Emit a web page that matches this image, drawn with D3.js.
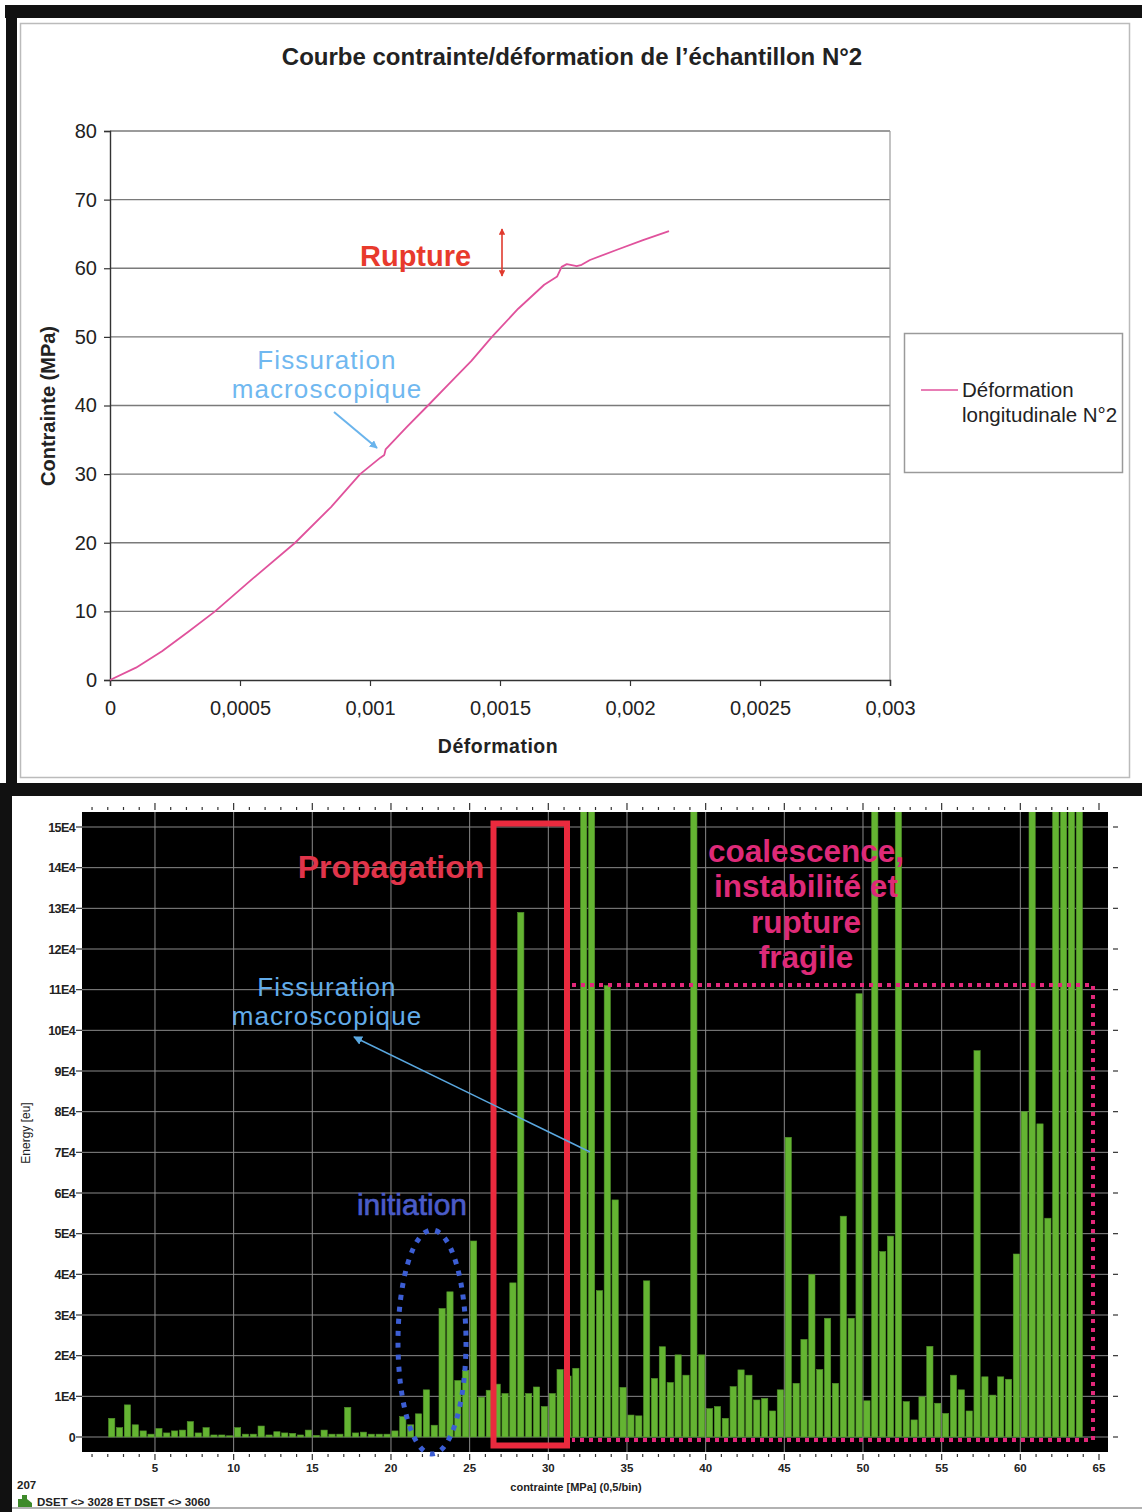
<!DOCTYPE html>
<html><head><meta charset="utf-8">
<script src="https://cdn.jsdelivr.net/npm/d3@7"></script>
<style>
body{margin:0;background:#fff;}
svg{display:block;}
text{font-family:"Liberation Sans",Arial,sans-serif;}
</style></head>
<body>
<svg id="c" width="1142" height="1512"></svg>
<script>
// ---------- Top chart data (stress/strain) ----------
const strain = [0,0.0001,0.0002,0.0003,0.000404,0.00055,0.000712,0.00085,0.000962,0.00104,0.001055,0.00106,0.00114,0.001223,0.0013,0.00139,0.001469,0.00157,0.00167,0.00172,0.001737,0.001757,0.001795,0.001814,0.001846,0.00195,0.00205,0.00215];
const stress = [0,1.8,4.2,7.0,10,14.8,20,25.2,30,32.4,32.8,33.6,36.8,40,43.0,46.5,50,54.1,57.6,58.8,60.2,60.6,60.3,60.5,61.2,62.7,64.1,65.4];
const topXTicks = [0,0.0005,0.001,0.0015,0.002,0.0025,0.003];
const topXTickLabels = ["0","0,0005","0,001","0,0015","0,002","0,0025","0,003"];
const topYTicks = [0,10,20,30,40,50,60,70,80];

// ---------- Bottom chart data (acoustic energy histogram, 0.5 MPa bins) ----------
const binStart = d3.range(2, 64, 0.5);
const energyE4 = [0.46,0.23,0.79,0.3,0.15,0.07,0.21,0.1,0.15,0.17,0.38,0.1,0.23,0.05,0.05,0.03,0.23,0.07,0.07,0.27,
0.05,0.13,0.1,0.09,0.05,0.17,0.04,0.17,0.07,0.07,0.73,0.1,0.12,0.07,0.07,0.07,0.15,0.5,0.3,0.57,
1.16,0.29,3.16,3.57,1.39,1.64,4.82,0.98,1.15,1.3,1.07,3.79,12.9,1.07,1.23,0.75,1.07,1.66,1.5,1.69,
18,18,3.6,11.1,5.83,1.22,0.54,0.52,3.84,1.44,2.22,1.34,2.02,1.52,18,2.02,0.7,0.75,0.46,1.24,
1.65,1.52,0.91,0.95,0.64,1.16,7.37,1.32,2.4,4.0,1.66,2.92,1.32,5.43,2.92,10.9,0.89,18,4.56,4.94,
18,0.87,0.42,0.99,2.23,0.83,0.58,1.52,1.16,0.64,9.5,1.48,1.03,1.48,1.42,4.5,8.0,18,7.7,5.38,
18,18,18,18];
const botXTicks = [5,10,15,20,25,30,35,40,45,50,55,60,65];
const botYTicks = d3.range(0,16);
const botYTickLabels = botYTicks.map(d => d===0 ? "0" : d+"E4");

const svg = d3.select("#c");

// ---------- frames ----------
svg.append("rect").attr("x",5).attr("y",5).attr("width",1137).attr("height",13).attr("fill","#111");
svg.append("rect").attr("x",6).attr("y",5).attr("width",11).attr("height",790).attr("fill","#111");
svg.append("rect").attr("x",20.5).attr("y",23.5).attr("width",1109).attr("height",754).attr("fill","none").attr("stroke","#bbb").attr("stroke-width",1.5);
svg.append("rect").attr("x",0).attr("y",783).attr("width",1142).attr("height",13).attr("fill","#111");
svg.append("rect").attr("x",0).attr("y",783).attr("width",12).attr("height",729).attr("fill","#111");
svg.append("line").attr("x1",12).attr("x2",1142).attr("y1",1508).attr("y2",1508).attr("stroke","#999").attr("stroke-width",1.5);

// ---------- TOP CHART ----------
const xT = d3.scaleLinear().domain([0,0.003]).range([110,890]);
const yT = d3.scaleLinear().domain([0,80]).range([680,131]);
const gTop = svg.append("g");

gTop.append("text").attr("x",572).attr("y",65).attr("text-anchor","middle")
  .attr("font-size",24).attr("font-weight","bold").attr("fill","#222")
  .text("Courbe contrainte/déformation de l’échantillon N°2");

gTop.append("g").selectAll("line").data(topYTicks.filter(d=>d>0)).join("line")
  .attr("x1",xT(0)).attr("x2",xT(0.003)).attr("y1",d=>yT(d)).attr("y2",d=>yT(d))
  .attr("stroke","#7a7a7a").attr("stroke-width",1.4);
gTop.append("line").attr("x1",xT(0.003)).attr("x2",xT(0.003)).attr("y1",yT(80)).attr("y2",yT(0))
  .attr("stroke","#9a9a9a").attr("stroke-width",1.2);

const yAx = gTop.append("g").attr("transform",`translate(${xT(0)},0)`)
  .call(d3.axisLeft(yT).tickValues(topYTicks).tickSize(6).tickPadding(7).tickFormat(d3.format("d")));
const xAx = gTop.append("g").attr("transform",`translate(0,${yT(0)})`)
  .call(d3.axisBottom(xT).tickValues(topXTicks).tickSize(6).tickPadding(15).tickFormat((d,i)=>topXTickLabels[i]));
[yAx,xAx].forEach(a=>{
  a.select(".domain").attr("stroke","#333").attr("stroke-width",1.4);
  a.selectAll(".tick line").attr("stroke","#333").attr("stroke-width",1.2);
  a.selectAll("text").attr("font-size",20).attr("fill","#222").attr("font-family","Liberation Sans, Arial, sans-serif");
});

gTop.append("text").attr("transform","translate(55,406) rotate(-90)").attr("text-anchor","middle")
  .attr("font-size",20).attr("font-weight","bold").attr("fill","#222").text("Contrainte (MPa)");
gTop.append("text").attr("x",498).attr("y",753).attr("text-anchor","middle")
  .attr("font-size",19.5).attr("font-weight","bold").attr("fill","#222").attr("letter-spacing",0.5).text("Déformation");

gTop.append("path").datum(strain.map((s,i)=>[s,stress[i]]))
  .attr("d",d3.line().x(d=>xT(d[0])).y(d=>yT(d[1])))
  .attr("fill","none").attr("stroke","#e0529c").attr("stroke-width",1.8).attr("stroke-linejoin","round");

const defs = svg.append("defs");
function marker(id,color,size){
  defs.append("marker").attr("id",id).attr("viewBox","0 0 10 10").attr("refX",9).attr("refY",5)
    .attr("markerWidth",size).attr("markerHeight",size).attr("orient","auto-start-reverse")
    .append("path").attr("d","M0,0 L10,5 L0,10 z").attr("fill",color);
}
marker("redArr","#e03a2e",4);
marker("blueArr","#6ab4ec",4);
marker("blueArr2","#5aa8e0",6);

gTop.append("text").attr("x",360).attr("y",266).attr("font-size",29).attr("font-weight","bold")
  .attr("fill","#e83a2c").text("Rupture");
gTop.append("line").attr("x1",502).attr("x2",502).attr("y1",229).attr("y2",276)
  .attr("stroke","#e03a2e").attr("stroke-width",1.6)
  .attr("marker-start","url(#redArr)").attr("marker-end","url(#redArr)");

const dv = "DejaVu Sans, Verdana, sans-serif";
gTop.append("text").attr("x",327).attr("y",369).attr("text-anchor","middle").attr("font-family",dv)
  .attr("font-size",26).attr("fill","#70b8f0").attr("letter-spacing",1.1).text("Fissuration");
gTop.append("text").attr("x",327).attr("y",398).attr("text-anchor","middle").attr("font-family",dv)
  .attr("font-size",26).attr("fill","#70b8f0").attr("letter-spacing",1.1).text("macroscopique");
gTop.append("line").attr("x1",334).attr("y1",412).attr("x2",377).attr("y2",448)
  .attr("stroke","#6ab4ec").attr("stroke-width",2).attr("marker-end","url(#blueArr)");

gTop.append("rect").attr("x",904.5).attr("y",333.5).attr("width",218).attr("height",139)
  .attr("fill","#fff").attr("stroke","#9a9a9a").attr("stroke-width",1.5);
gTop.append("line").attr("x1",921).attr("x2",958).attr("y1",390).attr("y2",390).attr("stroke","#e0529c").attr("stroke-width",1.6);
gTop.append("text").attr("x",962).attr("y",397).attr("font-size",20.5).attr("fill","#222").text("Déformation");
gTop.append("text").attr("x",962).attr("y",422).attr("font-size",20.5).attr("fill","#222").text("longitudinale N°2");

// ---------- BOTTOM CHART ----------
const xB = d3.scaleLinear().domain([0,65]).range([76.3,1099]);
const yB = d3.scaleLinear().domain([0,15]).range([1437,827]);
const pL=82, pR=1108, pT=812, pB=1452;
const gBot = svg.append("g");
const nar = "'Liberation Sans Narrow','Arial Narrow','Liberation Sans',Arial,sans-serif";

gBot.append("rect").attr("x",pL).attr("y",pT).attr("width",pR-pL).attr("height",pB-pT).attr("fill","#000");
defs.append("clipPath").attr("id","plotClip").append("rect").attr("x",pL).attr("y",pT).attr("width",pR-pL).attr("height",pB-pT);

gBot.append("g").selectAll("line").data(botYTicks).join("line")
  .attr("x1",pL).attr("x2",pR).attr("y1",d=>yB(d)).attr("y2",d=>yB(d))
  .attr("stroke","#8a8a8a").attr("stroke-width",1);
gBot.append("g").selectAll("line").data(botXTicks.filter(d=>d<65)).join("line")
  .attr("x1",d=>xB(d)).attr("x2",d=>xB(d)).attr("y1",pT).attr("y2",pB)
  .attr("stroke","#8a8a8a").attr("stroke-width",1);

const binW = xB(0.5)-xB(0);
gBot.append("g").attr("clip-path","url(#plotClip)").selectAll("rect").data(binStart).join("rect")
  .attr("x",(d)=>xB(d)+0.8).attr("width",binW-1.6)
  .attr("y",(d,i)=>yB(energyE4[i])).attr("height",(d,i)=>yB(0)-yB(energyE4[i]))
  .attr("fill","#64b432").attr("stroke","#4f8f2a").attr("stroke-width",0.6);

const minor = d3.range(1,66,1);
gBot.append("g").selectAll("line").data(minor).join("line")
  .attr("x1",d=>xB(d)).attr("x2",d=>xB(d)).attr("y1",pB+2).attr("y2",d=>d%5===0?pB+8:pB+5)
  .attr("stroke","#333").attr("stroke-width",1.2);
gBot.append("g").selectAll("line").data(minor).join("line")
  .attr("x1",d=>xB(d)).attr("x2",d=>xB(d)).attr("y1",pT-2).attr("y2",d=>d%5===0?pT-9:pT-5)
  .attr("stroke","#333").attr("stroke-width",1.2);
gBot.append("g").selectAll("text").data(botXTicks).join("text")
  .attr("x",d=>xB(d)).attr("y",1472).attr("text-anchor","middle")
  .attr("font-size",11.5).attr("font-weight","bold").attr("font-family",nar).attr("fill","#222").text(d=>d);

gBot.append("g").selectAll("line").data(botYTicks).join("line")
  .attr("x1",76).attr("x2",pL).attr("y1",d=>yB(d)).attr("y2",d=>yB(d)).attr("stroke","#333").attr("stroke-width",1.2);
gBot.append("g").selectAll("line").data(botYTicks).join("line")
  .attr("x1",pR+5).attr("x2",pR+10).attr("y1",d=>yB(d)).attr("y2",d=>yB(d)).attr("stroke","#333").attr("stroke-width",1.2);
gBot.append("g").selectAll("text").data(botYTicks).join("text")
  .attr("x",75).attr("y",d=>yB(d)+4.5).attr("text-anchor","end")
  .attr("font-size",12.5).attr("font-weight","bold").attr("font-family",nar).attr("fill","#222")
  .attr("letter-spacing",-0.6)
  .text((d,i)=>botYTickLabels[i]);

gBot.append("text").attr("transform","translate(30,1133) rotate(-90)").attr("text-anchor","middle")
  .attr("font-size",12).attr("font-family",nar).attr("fill","#222").text("Energy [eu]");
gBot.append("text").attr("x",576).attr("y",1491).attr("text-anchor","middle")
  .attr("font-size",11).attr("font-weight","bold").attr("font-family",nar).attr("fill","#222").text("contrainte [MPa] (0,5/bin)");
gBot.append("text").attr("x",17).attr("y",1489).attr("font-size",11.5).attr("font-weight","bold").attr("font-family",nar).attr("fill","#222").text("207");
gBot.append("path").attr("d","M18,1507 L18,1499 L22,1499 L22,1495 L27,1495 L27,1499 L32,1503 L32,1507 Z").attr("fill","#3e8a2a");
gBot.append("text").attr("x",37).attr("y",1506).attr("font-size",11.5).attr("font-weight","bold").attr("font-family",nar).attr("fill","#222").text("DSET <> 3028 ET DSET <> 3060");

gBot.append("rect").attr("x",493.5).attr("y",823.5).attr("width",73.5).attr("height",622)
  .attr("fill","none").attr("stroke","#ea2a3e").attr("stroke-width",6);
gBot.append("path").attr("d","M572,985 L1093,985 L1093,1440 L572,1440")
  .attr("fill","none").attr("stroke","#e2287a").attr("stroke-width",4).attr("stroke-dasharray","4,5");
gBot.append("text").attr("x",391).attr("y",878).attr("text-anchor","middle").attr("font-size",32)
  .attr("fill","#e0344a").attr("font-weight","bold").text("Propagation");
const coal = ["coalescence,","instabilité et","rupture","fragile"];
const coalY = [862,897,933,968];
gBot.append("g").selectAll("text").data(coal).join("text")
  .attr("x",806).attr("y",(d,i)=>coalY[i]).attr("text-anchor","middle").attr("font-size",31.5)
  .attr("font-weight","bold").attr("fill","#de2a78").text(d=>d);
gBot.append("text").attr("x",327).attr("y",996).attr("text-anchor","middle").attr("font-family",dv)
  .attr("font-size",26).attr("fill","#62acea").attr("letter-spacing",1.1).text("Fissuration");
gBot.append("text").attr("x",327).attr("y",1025).attr("text-anchor","middle").attr("font-family",dv)
  .attr("font-size",26).attr("fill","#62acea").attr("letter-spacing",1.1).text("macroscopique");
gBot.append("line").attr("x1",590).attr("y1",1152).attr("x2",354).attr("y2",1037)
  .attr("stroke","#5aa8e0").attr("stroke-width",1.5).attr("marker-end","url(#blueArr2)");
gBot.append("text").attr("x",412).attr("y",1215).attr("text-anchor","middle").attr("font-family",dv)
  .attr("font-size",30).attr("fill","#4a5cc8").attr("stroke","#4a5cc8").attr("stroke-width",0.7).text("initiation");
gBot.append("ellipse").attr("cx",432).attr("cy",1342).attr("rx",34).attr("ry",112)
  .attr("fill","none").attr("stroke","#3c5ed4").attr("stroke-width",5).attr("stroke-dasharray","5,7");
</script>
</body></html>
